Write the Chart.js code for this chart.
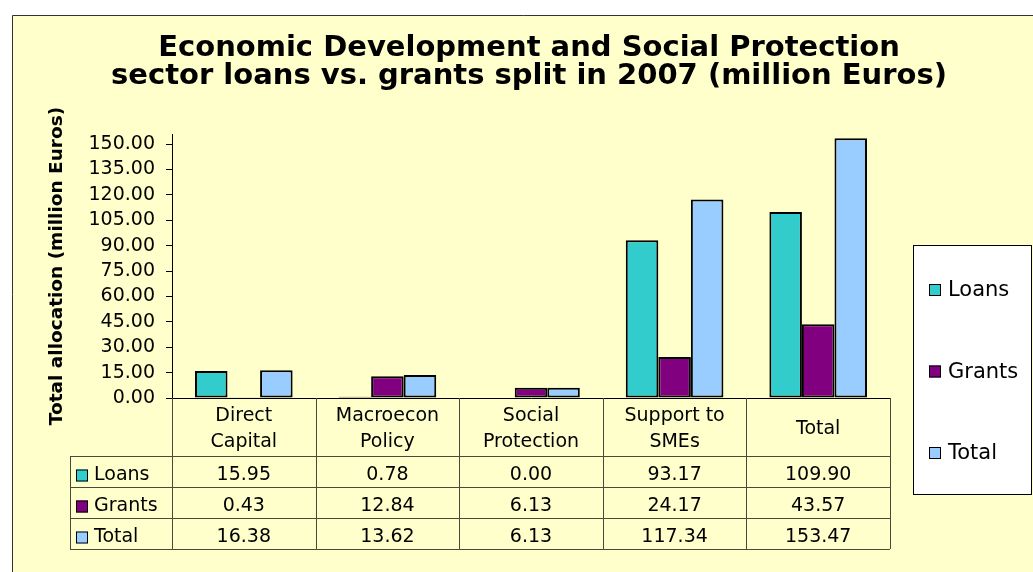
<!DOCTYPE html>
<html>
<head>
<meta charset="utf-8">
<script src="https://cdn.jsdelivr.net/npm/chart.js@4.4.1/dist/chart.umd.min.js"></script>
<style>
  html, body { margin: 0; padding: 0; background: #fff; }
  canvas { display: block; }
</style>
</head>
<body>
<canvas id="myChart" width="1033" height="572"></canvas>
<script>
const categories = [["Direct", "Capital"], ["Macroecon", "Policy"], ["Social", "Protection"], ["Support to", "SMEs"], "Total"];
const seriesNames = ["Loans", "Grants", "Total"];
const loans = [15.95, 0.78, 0.00, 93.17, 109.90];
const grants = [0.43, 12.84, 6.13, 24.17, 43.57];
const totals = [16.38, 13.62, 6.13, 117.34, 153.47];
const seriesColors = ["#33CCCC", "#800080", "#99CCFF"];
const yTicks = [0, 15, 30, 45, 60, 75, 90, 105, 120, 135, 150];
const yMax = 156;
const titleLines = ["Economic Development and Social Protection", "sector loans vs. grants split in 2007 (million Euros)"];
const yTitle = "Total allocation (million Euros)";

const FONT = '"DejaVu Sans", Verdana, sans-serif';
const LINE = "#4a4a3a";

// yellow frame behind everything
const framePlugin = {
  id: "frame",
  beforeDraw(chart) {
    const ctx = chart.ctx;
    ctx.save();
    ctx.fillStyle = "#fff";
    ctx.fillRect(0, 0, chart.width, chart.height);
    ctx.fillStyle = "#FFFFCC";
    ctx.fillRect(12, 15, chart.width, chart.height);
    ctx.strokeStyle = "#333";
    ctx.lineWidth = 1;
    ctx.beginPath();
    ctx.moveTo(12.5, chart.height + 2);
    ctx.lineTo(12.5, 15.5);
    ctx.lineTo(chart.width + 2, 15.5);
    ctx.stroke();
    ctx.restore();
  }
};

const marker = (ctx, x, y, color) => {
  ctx.fillStyle = color;
  ctx.fillRect(x, y - 6, 12, 12);
  ctx.strokeStyle = "#000";
  ctx.lineWidth = 1;
  ctx.strokeRect(x + 0.5, y - 5.5, 11, 11);
};

// title, data table under the axis and the boxed legend
const extrasPlugin = {
  id: "extras",
  afterDraw(chart) {
    const ctx = chart.ctx;
    const xs = chart.scales.x;
    const n = categories.length;
    const step = (xs.right - xs.left) / n;
    ctx.save();

    ctx.fillStyle = "#000";
    ctx.textAlign = "center";
    ctx.textBaseline = "middle";
    ctx.font = "bold 29px " + FONT;
    titleLines.forEach((t, i) => ctx.fillText(t, 529, 48 + i * 28));

    // table grid
    const headTop = xs.top;
    const rowTop = headTop + 58;
    const rowH = 31;
    const tableLeft = 70;
    const bottom = rowTop + rowH * 3;
    ctx.strokeStyle = LINE;
    ctx.lineWidth = 1;
    ctx.beginPath();
    for (let i = 0; i <= n; i++) {
      const x = Math.round(xs.left + i * step) + 0.5;
      ctx.moveTo(x, headTop);
      ctx.lineTo(x, bottom);
    }
    ctx.moveTo(tableLeft + 0.5, rowTop);
    ctx.lineTo(tableLeft + 0.5, bottom);
    for (let r = 0; r <= 3; r++) {
      const y = Math.round(rowTop + r * rowH) + 0.5;
      ctx.moveTo(tableLeft, y);
      ctx.lineTo(xs.right, y);
    }
    ctx.stroke();

    ctx.font = "19px " + FONT;
    chart.data.datasets.forEach((ds, r) => {
      const cy = rowTop + r * rowH + rowH / 2 + 4;
      marker(ctx, 76, cy, ds.backgroundColor);
      ctx.fillStyle = "#000";
      ctx.textAlign = "left";
      ctx.fillText(ds.label, 94, cy);
      ctx.textAlign = "center";
      ds.data.forEach((v, i) => {
        ctx.fillText(v.toFixed(2), xs.getPixelForValue(i), cy);
      });
    });

    // legend box
    ctx.fillStyle = "#fff";
    ctx.fillRect(913, 245, 118, 249);
    ctx.strokeStyle = "#000";
    ctx.strokeRect(913.5, 245.5, 118, 249);
    ctx.font = "21px " + FONT;
    chart.data.datasets.forEach((ds, r) => {
      const cy = 290 + r * 81.5;
      marker(ctx, 929, cy, ds.backgroundColor);
      ctx.fillStyle = "#000";
      ctx.textAlign = "left";
      ctx.fillText(ds.label, 948, cy + 1);
    });
    ctx.restore();
  }
};

const seriesValues = [loans, grants, totals];

new Chart(document.getElementById("myChart"), {
  type: "bar",
  data: {
    labels: categories,
    datasets: seriesNames.map((name, i) => ({
      label: name,
      data: seriesValues[i],
      backgroundColor: seriesColors[i],
      borderColor: "#000",
      borderWidth: 2,
      borderSkipped: false,
      categoryPercentage: 0.68,
      barPercentage: 1.0
    }))
  },
  options: {
    responsive: false,
    animation: false,
    devicePixelRatio: 1,
    layout: { padding: { left: 46, right: 143, top: 134, bottom: 23 } },
    plugins: {
      legend: { display: false },
      title: { display: false },
      tooltip: { enabled: false }
    },
    scales: {
      x: {
        grid: { display: false, drawTicks: false },
        border: { display: true, color: "#000", width: 1 },
        ticks: {
          color: "#000",
          font: { family: FONT, size: 19, lineHeight: 1.37 },
          padding: 18,
          crossAlign: "center",
          maxRotation: 0,
          autoSkip: false
        },
        afterFit(scale) { scale.height = 151; }
      },
      y: {
        min: 0,
        max: yMax,
        grid: { drawOnChartArea: false, drawTicks: true, tickLength: 6, color: "#000" },
        border: { display: true, color: "#000", width: 1 },
        ticks: {
          color: "#000",
          padding: 11,
          font: { family: FONT, size: 19 },
          callback: (v) => v.toFixed(2)
        },
        afterBuildTicks(scale) {
          scale.ticks = yTicks.map((v) => ({ value: v }));
        },
        title: {
          display: true,
          text: yTitle,
          color: "#000",
          padding: 0,
          font: { family: FONT, size: 18.5, weight: "bold" }
        },
        afterFit(scale) { scale.width = 126; }
      }
    }
  },
  plugins: [framePlugin, extrasPlugin]
});
</script>
</body>
</html>
